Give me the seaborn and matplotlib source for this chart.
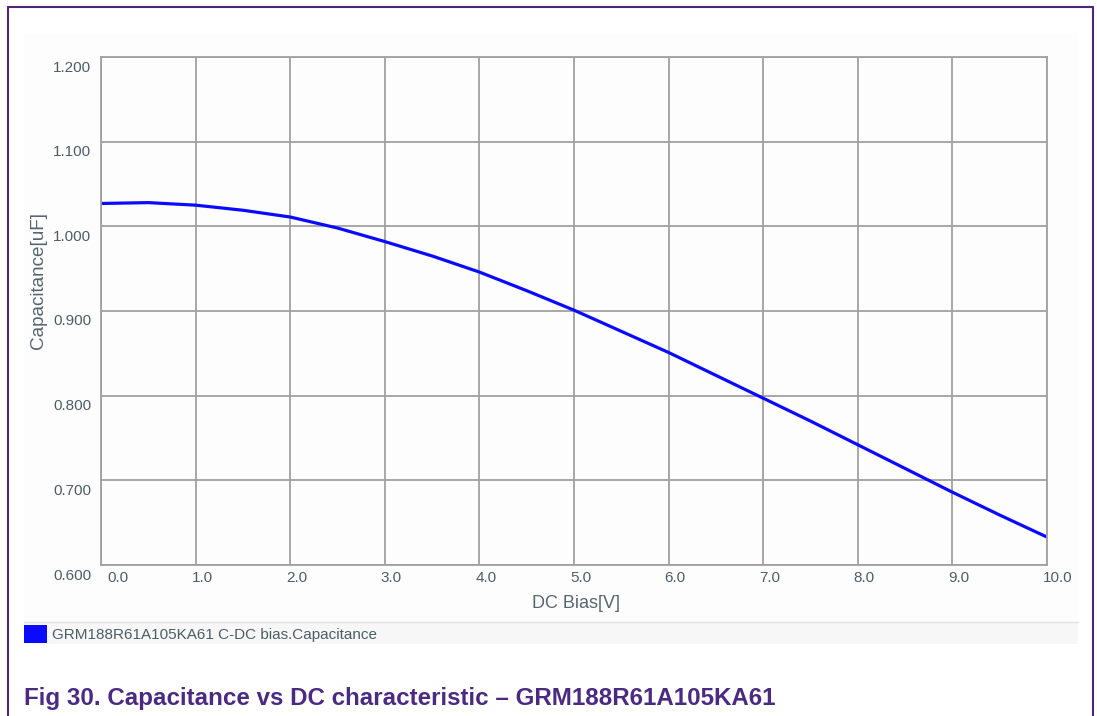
import numpy as np
import pandas as pd
import seaborn as sns
import matplotlib.pyplot as plt
from matplotlib.patches import Rectangle
from matplotlib.transforms import ScaledTranslation

# data
bias = [0.0, 0.5, 1.0, 1.5, 2.0, 2.5, 3.0, 3.5, 4.0, 4.5, 5.0,
        5.5, 6.0, 6.5, 7.0, 7.5, 8.0, 8.5, 9.0, 9.5, 10.0]
capacitance = [1.027, 1.028, 1.025, 1.019, 1.011, 0.998, 0.982, 0.965, 0.946, 0.924, 0.901,
               0.876, 0.851, 0.824, 0.797, 0.770, 0.742, 0.714, 0.686, 0.659, 0.633]
series_name = 'GRM188R61A105KA61 C-DC bias.Capacitance'
x_ticks = [0, 1, 2, 3, 4, 5, 6, 7, 8, 9, 10]
y_ticks = [0.6, 0.7, 0.8, 0.9, 1.0, 1.1, 1.2]

sns.set_style('white')
plt.rcParams['font.family'] = ['Liberation Sans', 'DejaVu Sans']

W, H = 1097, 716
fig = plt.figure(figsize=(W / 100, H / 100), dpi=100)
fig.patch.set_facecolor('white')

def fx(px):
    return px / W

def fy(py):
    return 1 - py / H

# outer purple frame (no bottom edge)
purple = '#4a2878'
fig.add_artist(plt.Line2D([fx(8), fx(8)], [fy(7), 0], color=purple, lw=1.5))
fig.add_artist(plt.Line2D([fx(8), fx(1093)], [fy(7), fy(7)], color=purple, lw=1.5))
fig.add_artist(plt.Line2D([fx(1093), fx(1093)], [fy(7), 0], color=purple, lw=1.5))

# light chart panel and legend strip
fig.add_artist(Rectangle((fx(24), fy(644)), fx(1078) - fx(24), fy(33) - fy(644),
                         facecolor='#fdfdfd', edgecolor='none', zorder=0))
fig.add_artist(Rectangle((fx(24), fy(644)), fx(1078) - fx(24), fy(622) - fy(644),
                         facecolor='#f7f7f7', edgecolor='none', zorder=0))
fig.add_artist(plt.Line2D([fx(24), fx(1078)], [fy(622), fy(622)], color='#e2e2e2', lw=1))

ax = fig.add_axes([fx(101), fy(565), fx(1047) - fx(101), fy(57) - fy(565)])
ax.set_facecolor('#fdfdfd')

df = pd.DataFrame({'DC Bias[V]': bias, 'Capacitance[uF]': capacitance})
sns.lineplot(data=df, x='DC Bias[V]', y='Capacitance[uF]', color='#0a0aff',
             linewidth=2.3, ax=ax, legend=False)

ax.set_xlim(0, 10)
ax.set_ylim(0.6, 1.2)
ax.set_xticks(x_ticks)
ax.set_yticks(y_ticks)
ax.set_xticklabels([f'{v:.1f}' for v in x_ticks])
ax.set_yticklabels([f'{v:.3f}' for v in y_ticks])
ax.grid(True, color='#a0a0a0', lw=1.3)
ax.set_axisbelow(True)
for s in ax.spines.values():
    s.set_color('#a0a0a0')
    s.set_linewidth(1.3)

tick_col = '#4d5d66'
ax.tick_params(axis='both', length=0, labelsize=11, labelcolor=tick_col)
ax.tick_params(axis='y', pad=7)
ax.tick_params(axis='x', pad=4)

for lab in ax.get_xticklabels():
    lab.set_horizontalalignment('left')
    dx = 6 / 100 if lab.get_text() == '0.0' else -4 / 100
    lab.set_transform(lab.get_transform() + ScaledTranslation(dx, 0, fig.dpi_scale_trans))
for lab in ax.get_yticklabels():
    lab.set_transform(lab.get_transform() + ScaledTranslation(0, -9 / 100, fig.dpi_scale_trans))

lab_col = '#56666e'
ax.set_xlabel('')
ax.set_ylabel('')
fig.text(fx(576), fy(604), 'DC Bias[V]', ha='center', va='center', fontsize=13, color=lab_col)
fig.text(fx(38), fy(281), 'Capacitance[uF]', ha='center', va='center', rotation=90,
         fontsize=13.6, color=lab_col)

# legend strip
fig.add_artist(Rectangle((fx(24), fy(643)), fx(47) - fx(24), fy(625) - fy(643),
                         facecolor='#0a0aff', edgecolor='none'))
fig.text(fx(52), fy(635), series_name, ha='left', va='center', fontsize=11, color='#4d5d66')

# caption
fig.text(fx(24), fy(705), 'Fig 30. Capacitance vs DC characteristic \u2013 GRM188R61A105KA61',
         ha='left', va='baseline', fontsize=17.35, fontweight='bold', color='#4b2a82')

fig.savefig('out.png', dpi=100)
